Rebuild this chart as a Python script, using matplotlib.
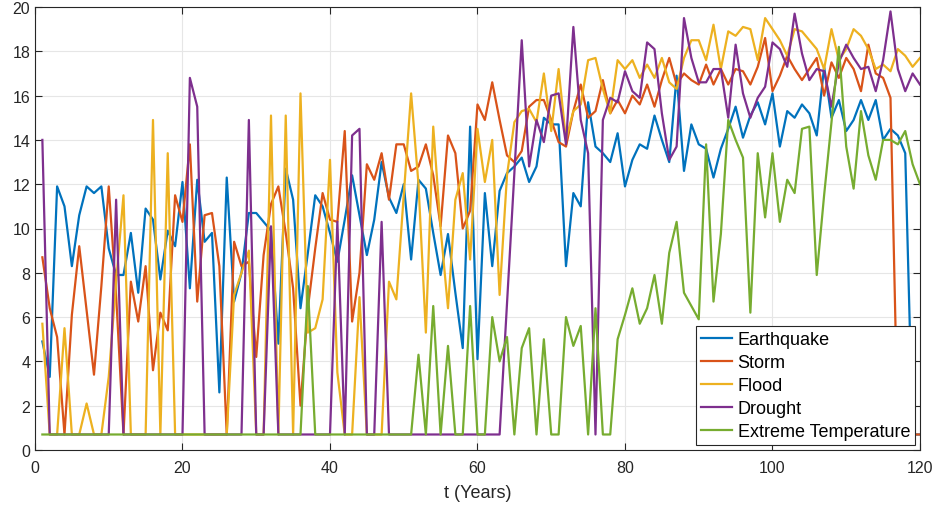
import matplotlib
matplotlib.use("Agg")
import matplotlib.pyplot as plt
import numpy as np

plt.rcParams['font.family'] = ['Liberation Sans', 'DejaVu Sans']

t = np.arange(1, 121)

earthquake = [
    4.9, 3.3, 11.9, 11.0, 8.3, 10.6, 11.9, 11.6, 11.9, 9.1,
    7.9, 7.9, 9.8, 7.1, 10.9, 10.4, 7.7, 9.9, 9.2, 12.1,
    7.3, 12.2, 9.4, 9.8, 2.6, 12.3, 6.7, 8.0, 10.7, 10.7,
    10.3, 9.9, 4.8, 12.7, 11.3, 6.4, 8.9, 11.5, 11.0, 9.8,
    8.5, 10.4, 12.4, 10.6, 8.8, 10.4, 13.0, 11.4, 10.7, 12.0,
    8.6, 12.2, 11.8, 9.8, 7.9, 9.75, 7.1, 4.6, 14.6, 4.1,
    11.6, 8.3, 11.7, 12.5, 12.8, 13.2, 12.1, 12.8, 15.0, 14.7,
    14.7, 8.3, 11.6, 11.0, 15.7, 13.7, 13.4, 13.0, 14.3, 11.9,
    13.1, 13.8, 13.6, 15.1, 14.0, 13.0, 16.9, 12.6, 14.7, 13.8,
    13.6, 12.3, 13.6, 14.5, 15.5, 14.1, 15.1, 15.7, 14.7, 16.1,
    13.7, 15.3, 15.0, 15.6, 15.2, 14.2, 17.3, 15.0, 15.8, 14.4,
    14.9, 15.8, 14.9, 15.8, 14.0, 14.5, 14.2, 13.4, 0.7, 0.7,
]

storm = [
    8.7, 6.4, 5.1, 0.7, 6.1, 9.2, 6.3, 3.4, 7.4, 11.9,
    7.0, 0.7, 7.6, 5.8, 8.3, 3.6, 6.2, 5.4, 11.5, 10.3,
    13.8, 6.7, 10.6, 10.7, 8.3, 0.7, 9.4, 8.3, 8.5, 4.2,
    8.8, 11.1, 11.9, 9.8, 7.3, 2.0, 6.4, 9.1, 11.6, 10.4,
    10.3, 14.4, 5.8, 8.0, 12.9, 12.2, 13.4, 11.3, 13.8, 13.8,
    12.6, 12.8, 13.8, 12.4, 10.1, 14.2, 13.4, 10.0, 10.8, 15.6,
    14.9, 16.6, 14.9, 13.3, 13.0, 13.5, 15.5, 15.8, 15.8, 14.9,
    13.9, 13.7, 15.3, 16.5, 15.0, 15.3, 16.7, 15.2, 15.8, 15.2,
    16.0, 15.6, 16.5, 15.5, 16.7, 17.7, 16.5, 17.0, 16.7, 16.5,
    17.4, 16.5, 17.2, 16.5, 17.2, 17.1, 16.5, 17.3, 18.6, 16.2,
    16.9, 17.8, 17.2, 16.7, 17.2, 17.7, 16.0, 17.5, 16.8, 17.7,
    17.2, 16.2, 18.3, 17.0, 16.8, 15.9, 0.7, 0.7, 0.7, 0.7,
]

flood = [
    5.7, 0.7, 0.7, 5.5, 0.7, 0.7, 2.1, 0.7, 0.7, 3.3,
    7.6, 11.5, 0.7, 0.7, 0.7, 14.9, 0.7, 13.4, 0.7, 0.7,
    0.7, 0.7, 0.7, 0.7, 0.7, 0.7, 7.0, 8.0, 9.0, 0.7,
    0.7, 15.1, 0.7, 15.1, 0.7, 16.1, 5.3, 5.5, 6.8, 13.1,
    3.5, 0.7, 0.7, 6.9, 0.7, 0.7, 0.7, 7.6, 6.8, 11.5,
    16.1, 12.0, 5.3, 14.6, 10.0, 6.4, 11.3, 12.5, 8.6, 14.5,
    12.1, 14.0, 7.0, 12.4, 14.8, 15.3, 15.4, 14.8, 17.0, 14.4,
    17.2, 14.0, 15.3, 15.6, 17.6, 17.7, 16.3, 15.2, 17.6, 17.2,
    17.6, 16.8, 17.4, 16.8, 17.7, 16.6, 16.3, 17.7, 18.5, 18.5,
    17.6, 19.2, 17.2, 18.9, 18.7, 19.1, 19.0, 17.6, 19.5, 19.0,
    18.5, 17.8, 19.0, 18.9, 18.5, 18.1, 17.2, 19.0, 17.6, 18.1,
    19.0, 18.7, 18.1, 17.2, 17.4, 17.1, 18.1, 17.8, 17.3, 17.7,
]

drought = [
    14.0, 0.7, 0.7, 0.7, 0.7, 0.7, 0.7, 0.7, 0.7, 0.7,
    11.3, 0.7, 0.7, 0.7, 0.7, 0.7, 0.7, 0.7, 0.7, 0.7,
    16.8, 15.5, 0.7, 0.7, 0.7, 0.7, 0.7, 0.7, 14.9, 0.7,
    0.7, 10.1, 0.7, 0.7, 0.7, 0.7, 0.7, 0.7, 0.7, 0.7,
    10.3, 0.7, 14.2, 14.5, 0.7, 0.7, 10.3, 0.7, 0.7, 0.7,
    0.7, 0.7, 0.7, 0.7, 0.7, 0.7, 0.7, 0.7, 0.7, 0.7,
    0.7, 0.7, 0.7, 6.6, 12.5, 18.5, 12.8, 14.9, 13.9, 16.0,
    16.1, 13.8, 19.1, 14.9, 13.4, 0.7, 14.9, 15.9, 15.7, 17.1,
    16.2, 15.9, 18.4, 18.1, 15.2, 13.1, 13.7, 19.5, 17.7, 16.6,
    16.6, 17.2, 17.2, 15.0, 18.3, 16.1, 15.0, 15.9, 16.4, 18.4,
    18.1, 17.3, 19.7, 17.9, 16.7, 17.2, 17.1, 15.5, 17.5, 18.3,
    17.7, 17.2, 17.3, 16.2, 17.6, 19.8, 17.2, 16.2, 17.0, 16.5,
]

extreme_temp = [
    0.7, 0.7, 0.7, 0.7, 0.7, 0.7, 0.7, 0.7, 0.7, 0.7,
    0.7, 0.7, 0.7, 0.7, 0.7, 0.7, 0.7, 0.7, 0.7, 0.7,
    0.7, 0.7, 0.7, 0.7, 0.7, 0.7, 0.7, 0.7, 0.7, 0.7,
    0.7, 0.7, 0.7, 0.7, 0.7, 0.7, 7.4, 0.7, 0.7, 0.7,
    0.7, 0.7, 0.7, 0.7, 0.7, 0.7, 0.7, 0.7, 0.7, 0.7,
    0.7, 4.3, 0.7, 6.5, 0.7, 4.7, 0.7, 0.7, 6.5, 0.7,
    0.7, 6.0, 4.0, 5.1, 0.7, 4.6, 5.5, 0.7, 5.0, 0.7,
    0.7, 6.0, 4.7, 5.6, 0.7, 6.4, 0.7, 0.7, 5.0, 6.1,
    7.3, 5.7, 6.4, 7.9, 5.7, 8.9, 10.3, 7.1, 6.5, 5.9,
    13.8, 6.7, 9.75, 14.9, 14.0, 13.2, 6.2, 13.4, 10.5, 13.4,
    10.3, 12.2, 11.6, 14.5, 14.6, 7.9, 11.5, 14.8, 18.2, 13.7,
    11.8, 15.3, 13.3, 12.2, 14.0, 14.0, 13.8, 14.4, 12.9, 12.0,
]

labels = ['Earthquake', 'Storm', 'Flood', 'Drought', 'Extreme Temperature']
colors = ['#0072BD', '#D95319', '#EDB120', '#7E2F8E', '#77AC30']
series = [earthquake, storm, flood, drought, extreme_temp]

fig = plt.figure(figsize=(9.38, 5.10), dpi=100)
ax = fig.add_axes([0.0373, 0.1157, 0.9435, 0.8686])

for y, lab, c in zip(series, labels, colors):
    ax.plot(t, y, color=c, linewidth=1.6, label=lab)

ax.set_xlim(0, 120)
ax.set_ylim(0, 20)
ax.set_xticks(np.arange(0, 121, 20))
ax.set_yticks(np.arange(0, 21, 2))
ax.grid(True, color='#e6e6e6', linewidth=0.8)
ax.set_axisbelow(True)
ax.tick_params(direction='in', top=True, right=True, labelsize=11.5,
               colors='#262626', length=5, width=0.8)
ax.tick_params(axis='x', pad=7)
for s in ax.spines.values():
    s.set_color('#262626')
    s.set_linewidth(0.8)
ax.set_xlabel('t (Years)', fontsize=13, color='#262626', labelpad=7)

leg = ax.legend(loc='lower right', fontsize=13, frameon=True, fancybox=False,
                edgecolor='#262626', framealpha=1, borderaxespad=0.25,
                handlelength=1.7, handletextpad=0.3, labelspacing=0.33,
                borderpad=0.3)
leg.get_frame().set_linewidth(0.8)

fig.savefig('out.png', dpi=100)
